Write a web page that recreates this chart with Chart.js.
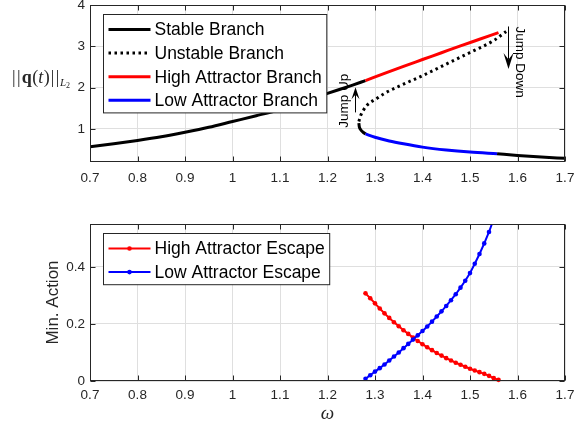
<!DOCTYPE html>
<html>
<head>
<meta charset="utf-8">
<script src="https://cdn.jsdelivr.net/npm/chart.js@4.4.0/dist/chart.umd.min.js"></script>
<style>
  html, body { margin: 0; padding: 0; background: #fff; }
  #wrap { position: relative; width: 574px; height: 426px; }
  .panel { position: absolute; left: 0; width: 574px; }
</style>
</head>
<body>
<div id="wrap">
  <div class="panel" style="top:0;height:200px"><canvas id="topChart" width="574" height="200"></canvas></div>
  <div class="panel" style="top:200px;height:226px"><canvas id="botChart" width="574" height="226"></canvas></div>
</div>
<script>
// ---- data ----
const omegaTicks = [0.7, 0.8, 0.9, 1, 1.1, 1.2, 1.3, 1.4, 1.5, 1.6, 1.7];
const normTicks = [1, 2, 3, 4];
const actionTicks = [0, 0.2, 0.4];

// top panel: frequency response branches (omega, ||q||)
const stableW = [0.70, 0.75, 0.80, 0.85, 0.90, 0.95, 1.00, 1.05, 1.10, 1.15, 1.20, 1.25, 1.28];
const stableY = [0.57, 0.64, 0.72, 0.81, 0.92, 1.04, 1.18, 1.32, 1.47, 1.66, 1.86, 2.05, 2.17];
const unstableW = [1.266, 1.270, 1.276, 1.282, 1.29, 1.30, 1.32, 1.35, 1.40, 1.45, 1.50, 1.55, 1.576];
const unstableY = [1.18, 1.33, 1.46, 1.56, 1.64, 1.71, 1.86, 2.03, 2.29, 2.57, 2.85, 3.14, 3.36];
const highW = [1.28, 1.32, 1.36, 1.40, 1.44, 1.48, 1.52, 1.56];
const highY = [2.17, 2.345, 2.515, 2.68, 2.845, 3.01, 3.17, 3.33];
const foldW = [1.266, 1.267, 1.270, 1.275, 1.28];
const foldY = [1.14, 1.05, 0.98, 0.92, 0.88];
const lowW = [1.28, 1.30, 1.33, 1.36, 1.40, 1.45, 1.50, 1.557];
const lowY = [0.88, 0.80, 0.71, 0.64, 0.56, 0.49, 0.44, 0.40];
const tailW = [1.557, 1.60, 1.65, 1.70];
const tailY = [0.40, 0.36, 0.32, 0.29];

// bottom panel: minimum action of escape
const escW = [1.28, 1.29, 1.30, 1.31, 1.32, 1.33, 1.34, 1.35, 1.36, 1.37, 1.38, 1.39, 1.40, 1.41, 1.42,
              1.43, 1.44, 1.45, 1.46, 1.47, 1.48, 1.49, 1.50, 1.51, 1.52, 1.53, 1.54, 1.55, 1.56];
const highEsc = [0.307, 0.290, 0.272, 0.254, 0.237, 0.221, 0.206, 0.192, 0.178, 0.165, 0.152, 0.140, 0.129, 0.118, 0.108,
                 0.098, 0.089, 0.080, 0.072, 0.064, 0.057, 0.050, 0.043, 0.037, 0.031, 0.025, 0.018, 0.010, 0.004];
const lowEsc = [0.008, 0.020, 0.033, 0.045, 0.058, 0.072, 0.086, 0.100, 0.115, 0.130, 0.145, 0.160, 0.175, 0.191, 0.208,
                0.226, 0.244, 0.263, 0.283, 0.304, 0.327, 0.351, 0.378, 0.411, 0.445, 0.482, 0.522, 0.568, 0.615];

// annotations (data coordinates)
const jumpUp = { w: 1.257, from: 1.40, to: 2.01, head: 12, half: 4, text: 'Jump Up', tw: 1.236, ty: 1.68, rot: -Math.PI / 2 };
const jumpDown = { w: 1.580, from: 3.48, to: 2.45, head: 16, half: 5, text: 'Jump Down', tw: 1.605, ty: 2.62, rot: Math.PI / 2 };

const AXIS = '#262626';
const GRID = '#dfdfdf';
const SANS = 'Liberation Sans';
const SERIF = 'Liberation Serif';

const pts = (xs, ys) => xs.map((x, i) => ({ x: x, y: ys[i] }));

function xAxis(h, pad) {
  return {
    type: 'linear', min: 0.7, max: 1.7,
    afterBuildTicks: s => { s.ticks = omegaTicks.map(v => ({ value: v })); },
    afterFit: s => { s.height = h; s.paddingLeft = 0; s.paddingRight = 0; },
    ticks: { color: AXIS, font: { family: SANS, size: 13.5 }, padding: pad, maxRotation: 0, autoSkip: false, callback: v => String(v) },
    grid: { color: GRID, drawTicks: false },
    border: { display: false }
  };
}

function yAxis(min, max, ticks) {
  return {
    type: 'linear', min: min, max: max,
    afterBuildTicks: s => { s.ticks = ticks.map(v => ({ value: v })); },
    afterFit: s => { s.width = 90; s.paddingTop = 0; s.paddingBottom = 0; },
    ticks: { color: AXIS, font: { family: SANS, size: 13.5 }, padding: 5, autoSkip: false, callback: v => String(v) },
    grid: { color: GRID, drawTicks: false },
    border: { display: false }
  };
}

function line(label, data, color, width, dash) {
  return {
    label: label, data: data, showLine: true, borderColor: color, backgroundColor: color,
    borderWidth: width, borderDash: dash || [], pointRadius: 0, cubicInterpolationMode: 'monotone',
    borderCapStyle: 'butt'
  };
}

// draws box, inward ticks, legend and extra text for one panel
function makeDecor(cfg) {
  return {
    id: 'decor',
    afterDraw(chart) {
      const ctx = chart.ctx, a = chart.chartArea;
      const xs = chart.scales.x, ys = chart.scales.y;
      const L = Math.round(a.left) + 0.5, R = Math.round(a.right) - 0.5;
      const T = Math.round(a.top) + 0.5, B = Math.round(a.bottom) - 0.5;
      ctx.save();
      ctx.strokeStyle = AXIS;
      ctx.lineWidth = 1;
      ctx.beginPath();
      xs.ticks.forEach(t => {
        const px = Math.round(xs.getPixelForValue(t.value)) + 0.5;
        ctx.moveTo(px, B); ctx.lineTo(px, B - 5);
        ctx.moveTo(px, T); ctx.lineTo(px, T + 5);
      });
      ys.ticks.forEach(t => {
        const py = Math.round(ys.getPixelForValue(t.value)) + 0.5;
        ctx.moveTo(L, py); ctx.lineTo(L + 5, py);
        ctx.moveTo(R, py); ctx.lineTo(R - 5, py);
      });
      ctx.stroke();
      ctx.strokeRect(L, T, R - L, B - T);

      // legend
      const lg = cfg.legend;
      ctx.font = '17.5px ' + SANS;
      const textW = Math.max(...lg.items.map(it => ctx.measureText(it.label).width));
      const bx = Math.round(a.left + 13) + 0.5, by = Math.round(a.top + 9) + 0.5;
      const bw = 51 + textW + 5, bh = lg.items.length * 23.6 + 4;
      ctx.fillStyle = '#fff';
      ctx.fillRect(bx, by, bw, bh);
      ctx.strokeStyle = AXIS;
      ctx.strokeRect(bx, by, bw, bh);
      lg.items.forEach((it, i) => {
        const cy = by + 15 + i * 23.6;
        ctx.strokeStyle = it.color;
        ctx.lineWidth = it.width;
        ctx.setLineDash(it.dash || []);
        ctx.beginPath();
        ctx.moveTo(bx + 5, cy); ctx.lineTo(bx + 47, cy);
        ctx.stroke();
        ctx.setLineDash([]);
        if (it.marker) {
          ctx.fillStyle = it.color;
          ctx.beginPath();
          ctx.arc(bx + 26, cy, 2.3, 0, Math.PI * 2);
          ctx.fill();
        }
        ctx.fillStyle = '#000';
        ctx.textAlign = 'left';
        ctx.textBaseline = 'middle';
        ctx.fillText(it.label, bx + 51, cy + 1);
      });

      // jump arrows
      (cfg.arrows || []).forEach(ar => {
        const px = Math.round(xs.getPixelForValue(ar.w)) + 0.5;
        const p0 = ys.getPixelForValue(ar.from), p1 = ys.getPixelForValue(ar.to);
        const dir = p1 < p0 ? 1 : -1;
        ctx.strokeStyle = '#000';
        ctx.fillStyle = '#000';
        ctx.lineWidth = 1;
        ctx.beginPath();
        ctx.moveTo(px, p0); ctx.lineTo(px, p1 + dir * ar.head * 0.6);
        ctx.stroke();
        ctx.beginPath();
        ctx.moveTo(px, p1);
        ctx.lineTo(px - ar.half, p1 + dir * ar.head);
        ctx.lineTo(px, p1 + dir * ar.head * 0.6);
        ctx.lineTo(px + ar.half, p1 + dir * ar.head);
        ctx.closePath();
        ctx.fill();
        ctx.save();
        ctx.translate(xs.getPixelForValue(ar.tw), ys.getPixelForValue(ar.ty));
        ctx.rotate(ar.rot);
        ctx.font = '13.5px ' + SANS;
        ctx.textAlign = 'center';
        ctx.textBaseline = 'middle';
        ctx.fillText(ar.text, 0, 0);
        ctx.restore();
      });

      if (cfg.yTitle === 'norm') {
        // ||q(t)||_{L_2}
        const parts = [
          ['|', '18px ' + SERIF, 0, 1.5], ['|', '18px ' + SERIF, 0, 1], ['q', 'bold 18px ' + SERIF, 0, 0.5],
          ['(', '18px ' + SERIF, 0, 0], ['t', 'italic 18px ' + SERIF, 0, 0.5], [')', '18px ' + SERIF, 0, 1],
          ['|', '18px ' + SERIF, 0, 1.5], ['|', '18px ' + SERIF, 0, 0.5], ['L', 'italic 11px ' + SERIF, 3, 0],
          ['2', '8px ' + SERIF, 5, 0]
        ];
        let x = 12;
        const base = 83;
        ctx.fillStyle = AXIS;
        ctx.textAlign = 'left';
        ctx.textBaseline = 'alphabetic';
        parts.forEach(p => {
          ctx.font = p[1];
          ctx.fillText(p[0], x, base + p[2]);
          x += ctx.measureText(p[0]).width + p[3];
        });
      } else if (cfg.yTitle) {
        ctx.save();
        ctx.translate(53, (a.top + a.bottom) / 2);
        ctx.rotate(-Math.PI / 2);
        ctx.font = '17px ' + SANS;
        ctx.fillStyle = AXIS;
        ctx.textAlign = 'center';
        ctx.textBaseline = 'middle';
        ctx.fillText(cfg.yTitle, 0, 0);
        ctx.restore();
      }
      if (cfg.xTitle) {
        ctx.font = 'italic 19px ' + SERIF;
        ctx.fillStyle = AXIS;
        ctx.textAlign = 'center';
        ctx.textBaseline = 'middle';
        ctx.fillText(cfg.xTitle, (a.left + a.right) / 2, a.bottom + 33);
      }
      ctx.restore();
    }
  };
}

const common = {
  responsive: false,
  animation: false,
  events: [],
  plugins: { legend: { display: false }, tooltip: { enabled: false } }
};

// ---- top panel ----
new Chart(document.getElementById('topChart'), {
  type: 'scatter',
  data: {
    datasets: [
      line('High Attractor Branch', pts(highW, highY), '#ff0000', 3),
      line('Low Attractor Branch', pts(lowW, lowY), '#0000ff', 3),
      line('Unstable Branch', pts(unstableW, unstableY), '#000000', 3, [2.5, 3.5]),
      line('Stable Branch', pts(stableW, stableY), '#000000', 3),
      line('', pts(foldW, foldY), '#000000', 3),
      line('', pts(tailW, tailY), '#000000', 3)
    ]
  },
  options: Object.assign({}, common, {
    layout: { padding: { left: 0, right: 9, top: 5, bottom: 0 } },
    scales: { x: xAxis(38, 8), y: yAxis(0.2, 4, normTicks) }
  }),
  plugins: [makeDecor({
    yTitle: 'norm',
    arrows: [jumpUp, jumpDown],
    legend: {
      items: [
        { label: 'Stable Branch', color: '#000000', width: 3 },
        { label: 'Unstable Branch', color: '#000000', width: 3, dash: [2.5, 3.5] },
        { label: 'High Attractor Branch', color: '#ff0000', width: 3 },
        { label: 'Low Attractor Branch', color: '#0000ff', width: 3 }
      ]
    }
  })]
});

// ---- bottom panel ----
function escLine(label, data, color) {
  return {
    label: label, data: data, showLine: true, borderColor: color, backgroundColor: color,
    borderWidth: 2, pointRadius: 2.3, pointBorderWidth: 0, tension: 0,
    clip: { left: 5, right: 5, top: 0, bottom: 5 }
  };
}

new Chart(document.getElementById('botChart'), {
  type: 'scatter',
  data: {
    datasets: [
      escLine('Low Attractor Escape', pts(escW, lowEsc), '#0000ff'),
      escLine('High Attractor Escape', pts(escW, highEsc), '#ff0000')
    ]
  },
  options: Object.assign({}, common, {
    layout: { padding: { left: 0, right: 9, top: 24, bottom: 0 } },
    scales: { x: xAxis(45, 6), y: yAxis(0, 0.55, actionTicks) }
  }),
  plugins: [makeDecor({
    yTitle: 'Min. Action',
    xTitle: 'ω',
    legend: {
      items: [
        { label: 'High Attractor Escape', color: '#ff0000', width: 2, marker: true },
        { label: 'Low Attractor Escape', color: '#0000ff', width: 2, marker: true }
      ]
    }
  })]
});
</script>
</body>
</html>
